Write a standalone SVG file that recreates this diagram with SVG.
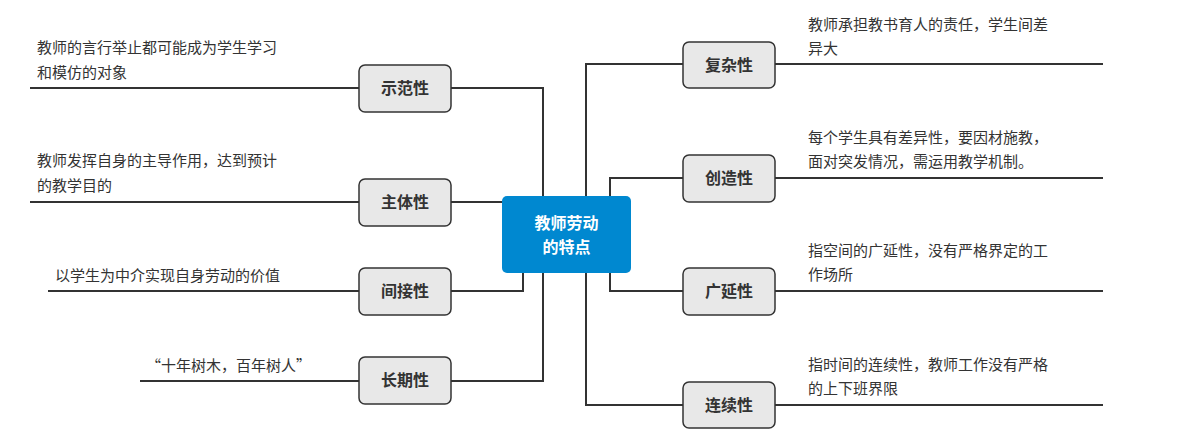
<svg xmlns="http://www.w3.org/2000/svg" width="1183" height="444" viewBox="0 0 1183 444">
<style>
.n rect{fill:#e8e8e8;stroke:#333;stroke-width:1.5}
.n text{font:bold 16px "Noto Sans CJK SC",sans-serif;fill:#333;text-anchor:middle}
.t{font:15px "Noto Sans CJK SC",sans-serif;fill:#333}
.c path{fill:none;stroke:#333;stroke-width:2}
.u{stroke:#444;stroke-width:1.2}
</style>
<rect width="1183" height="444" fill="#fff"/>
<g class="c">
<path d="M451 88H543V196M451 202H502M451 291H523V273M451 381H543V273M586 196V64H683M610 196V178H683M610 273V291H683M586 273V405H683"/>
<path class="u" d="M30 88H359M30 202H359M48 291H359M140 381H359M775 64H1103M775 178H1103M775 291H1103M775 405H1103"/>
</g>
<g id="center"><rect x="502" y="196" width="129" height="77" rx="5" fill="#0088d0"/>
<text x="566.5" y="229" style="font:bold 16px 'Noto Sans CJK SC',sans-serif;fill:#fff;text-anchor:middle">教师劳动</text>
<text x="566.5" y="253" style="font:bold 16px 'Noto Sans CJK SC',sans-serif;fill:#fff;text-anchor:middle">的特点</text></g>
<g id="n1" class="n"><rect x="359" y="65" width="92" height="47" rx="6"/><text x="405" y="94">示范性</text></g>
<g id="n2" class="n"><rect x="359" y="179" width="92" height="47" rx="6"/><text x="405" y="208">主体性</text></g>
<g id="n3" class="n"><rect x="359" y="268" width="92" height="47" rx="6"/><text x="405" y="297">间接性</text></g>
<g id="n4" class="n"><rect x="359" y="357" width="92" height="47" rx="6"/><text x="405" y="386">长期性</text></g>
<g id="n5" class="n"><rect x="683" y="42" width="92" height="46" rx="6"/><text x="729" y="71">复杂性</text></g>
<g id="n6" class="n"><rect x="683" y="155" width="92" height="47" rx="6"/><text x="729" y="184">创造性</text></g>
<g id="n7" class="n"><rect x="683" y="268" width="92" height="47" rx="6"/><text x="729" y="297">广延性</text></g>
<g id="n8" class="n"><rect x="683" y="382" width="92" height="46" rx="6"/><text x="729" y="411">连续性</text></g>
<g id="labels" class="t">
<text x="37" y="53">教师的言行举止都可能成为学生学习</text><text x="37" y="78">和模仿的对象</text>
<text x="37" y="166">教师发挥自身的主导作用，达到预计</text><text x="37" y="191">的教学目的</text>
<text x="55" y="281">以学生为中介实现自身劳动的价值</text>
<text x="146" y="371">“十年树木，百年树人”</text>
<text x="808" y="30">教师承担教书育人的责任，学生间差</text><text x="808" y="54">异大</text>
<text x="808" y="143">每个学生具有差异性，要因材施教，</text><text x="808" y="167">面对突发情况，需运用教学机制。</text>
<text x="808" y="256">指空间的广延性，没有严格界定的工</text><text x="808" y="280">作场所</text>
<text x="808" y="370">指时间的连续性，教师工作没有严格</text><text x="808" y="394">的上下班界限</text>
</g>
</svg>
